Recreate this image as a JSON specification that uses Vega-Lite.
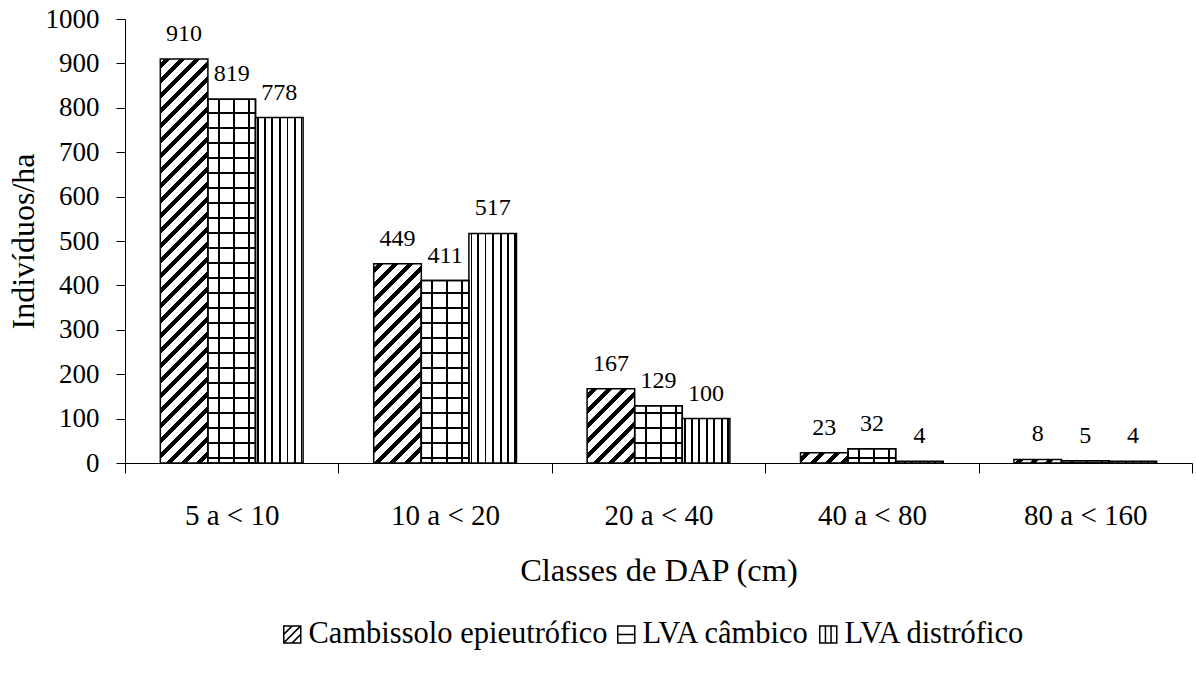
{
"$schema":"https://vega.github.io/schema/vega-lite/v6.json",
"width":1067,"height":444,
"autosize":{"type":"none"},
"padding":{"left":125,"top":19,"right":4,"bottom":212},
"background":"white",
"config":{"view":{"stroke":null},"font":"Liberation Serif",
 "axis":{"labelFont":"Liberation Serif","titleFont":"Liberation Serif","labelColor":"black","titleColor":"black","domainColor":"black","tickColor":"black","titleFontWeight":"normal","grid":false,"domainWidth":1,"tickWidth":1},
 "legend":{"labelFont":"Liberation Serif","labelColor":"black"}},
"data":{"values":[
{"Classe":"5 a < 10","Solo":"Cambissolo epieutrófico","Ind":910},
{"Classe":"5 a < 10","Solo":"LVA câmbico","Ind":819},
{"Classe":"5 a < 10","Solo":"LVA distrófico","Ind":778},
{"Classe":"10 a < 20","Solo":"Cambissolo epieutrófico","Ind":449},
{"Classe":"10 a < 20","Solo":"LVA câmbico","Ind":411},
{"Classe":"10 a < 20","Solo":"LVA distrófico","Ind":517},
{"Classe":"20 a < 40","Solo":"Cambissolo epieutrófico","Ind":167},
{"Classe":"20 a < 40","Solo":"LVA câmbico","Ind":129},
{"Classe":"20 a < 40","Solo":"LVA distrófico","Ind":100},
{"Classe":"40 a < 80","Solo":"Cambissolo epieutrófico","Ind":23},
{"Classe":"40 a < 80","Solo":"LVA câmbico","Ind":32},
{"Classe":"40 a < 80","Solo":"LVA distrófico","Ind":4},
{"Classe":"80 a < 160","Solo":"Cambissolo epieutrófico","Ind":8},
{"Classe":"80 a < 160","Solo":"LVA câmbico","Ind":5},
{"Classe":"80 a < 160","Solo":"LVA distrófico","Ind":4}
]},
"encoding":{
 "x":{"field":"Classe","type":"nominal","sort":["5 a < 10","10 a < 20","20 a < 40","40 a < 80","80 a < 160"],
  "scale":{"paddingInner":0,"paddingOuter":0},
  "axis":{"title":"Classes de DAP (cm)","labelAngle":0,"tickBand":"extent","tickSize":10,"labelFontSize":29,"labelPadding":28,"titleFontSize":32.5,"titlePadding":24}},
 "xOffset":{"field":"Solo","type":"nominal","sort":["Cambissolo epieutrófico","LVA câmbico","LVA distrófico"],"scale":{"paddingInner":0,"paddingOuter":0.742}},
 "y":{"field":"Ind","type":"quantitative","scale":{"domain":[0,1000],"nice":false},
  "axis":{"title":"Indivíduos/ha","format":"d","values":[0,100,200,300,400,500,600,700,800,900,1000],"tickSize":9,"labelPadding":17,"labelFontSize":27,"titleFontSize":32,"titlePadding":5,"labelOverlap":false,"labelFlush":false}}
},
"layer":[
{"mark":{"type":"bar","stroke":"black","strokeWidth":1.5},
 "encoding":{"fill":{"condition":[
  {"test":"datum.Solo === 'LVA câmbico'","value":{"gradient":"linear","x1":0,"y1":0,"x2":1,"y2":0,"stops":[
{"offset":0.210,"color":"#fff"},{"offset":0.210,"color":"#000"},{"offset":0.252,"color":"#000"},{"offset":0.252,"color":"#fff"},
{"offset":0.525,"color":"#fff"},{"offset":0.525,"color":"#000"},{"offset":0.567,"color":"#000"},{"offset":0.567,"color":"#fff"},
{"offset":0.840,"color":"#fff"},{"offset":0.840,"color":"#000"},{"offset":0.882,"color":"#000"},{"offset":0.882,"color":"#fff"}]}},
  {"test":"datum.Solo === 'LVA distrófico'","value":{"gradient":"linear","x1":0,"y1":0,"x2":1,"y2":0,"stops":[
{"offset":0.035,"color":"#fff"},{"offset":0.035,"color":"#000"},{"offset":0.075,"color":"#000"},{"offset":0.075,"color":"#fff"},
{"offset":0.175,"color":"#fff"},{"offset":0.175,"color":"#000"},{"offset":0.215,"color":"#000"},{"offset":0.215,"color":"#fff"},
{"offset":0.329,"color":"#fff"},{"offset":0.329,"color":"#000"},{"offset":0.369,"color":"#000"},{"offset":0.369,"color":"#fff"},
{"offset":0.490,"color":"#fff"},{"offset":0.490,"color":"#000"},{"offset":0.530,"color":"#000"},{"offset":0.530,"color":"#fff"},
{"offset":0.652,"color":"#fff"},{"offset":0.652,"color":"#000"},{"offset":0.692,"color":"#000"},{"offset":0.692,"color":"#fff"},
{"offset":0.806,"color":"#fff"},{"offset":0.806,"color":"#000"},{"offset":0.846,"color":"#000"},{"offset":0.846,"color":"#fff"},
{"offset":0.946,"color":"#fff"},{"offset":0.946,"color":"#000"},{"offset":0.986,"color":"#000"},{"offset":0.986,"color":"#fff"}]}},
  {"test":"datum.Classe === '5 a < 10'","value":{"gradient":"linear","x1":0,"y1":0,"x2":0.12986,"y2":1.1025,"stops":[
{"offset":0.0100,"color":"#fff"},{"offset":0.0100,"color":"#000"},{"offset":0.0232,"color":"#000"},{"offset":0.0232,"color":"#fff"},
{"offset":0.0432,"color":"#fff"},{"offset":0.0432,"color":"#000"},{"offset":0.0565,"color":"#000"},{"offset":0.0565,"color":"#fff"},
{"offset":0.0764,"color":"#fff"},{"offset":0.0764,"color":"#000"},{"offset":0.0897,"color":"#000"},{"offset":0.0897,"color":"#fff"},
{"offset":0.1096,"color":"#fff"},{"offset":0.1096,"color":"#000"},{"offset":0.1229,"color":"#000"},{"offset":0.1229,"color":"#fff"},
{"offset":0.1428,"color":"#fff"},{"offset":0.1428,"color":"#000"},{"offset":0.1561,"color":"#000"},{"offset":0.1561,"color":"#fff"},
{"offset":0.1760,"color":"#fff"},{"offset":0.1760,"color":"#000"},{"offset":0.1893,"color":"#000"},{"offset":0.1893,"color":"#fff"},
{"offset":0.2093,"color":"#fff"},{"offset":0.2093,"color":"#000"},{"offset":0.2225,"color":"#000"},{"offset":0.2225,"color":"#fff"},
{"offset":0.2425,"color":"#fff"},{"offset":0.2425,"color":"#000"},{"offset":0.2557,"color":"#000"},{"offset":0.2557,"color":"#fff"},
{"offset":0.2757,"color":"#fff"},{"offset":0.2757,"color":"#000"},{"offset":0.2890,"color":"#000"},{"offset":0.2890,"color":"#fff"},
{"offset":0.3089,"color":"#fff"},{"offset":0.3089,"color":"#000"},{"offset":0.3222,"color":"#000"},{"offset":0.3222,"color":"#fff"},
{"offset":0.3421,"color":"#fff"},{"offset":0.3421,"color":"#000"},{"offset":0.3554,"color":"#000"},{"offset":0.3554,"color":"#fff"},
{"offset":0.3753,"color":"#fff"},{"offset":0.3753,"color":"#000"},{"offset":0.3886,"color":"#000"},{"offset":0.3886,"color":"#fff"},
{"offset":0.4085,"color":"#fff"},{"offset":0.4085,"color":"#000"},{"offset":0.4218,"color":"#000"},{"offset":0.4218,"color":"#fff"},
{"offset":0.4417,"color":"#fff"},{"offset":0.4417,"color":"#000"},{"offset":0.4550,"color":"#000"},{"offset":0.4550,"color":"#fff"},
{"offset":0.4749,"color":"#fff"},{"offset":0.4749,"color":"#000"},{"offset":0.4882,"color":"#000"},{"offset":0.4882,"color":"#fff"},
{"offset":0.5081,"color":"#fff"},{"offset":0.5081,"color":"#000"},{"offset":0.5214,"color":"#000"},{"offset":0.5214,"color":"#fff"},
{"offset":0.5414,"color":"#fff"},{"offset":0.5414,"color":"#000"},{"offset":0.5546,"color":"#000"},{"offset":0.5546,"color":"#fff"},
{"offset":0.5746,"color":"#fff"},{"offset":0.5746,"color":"#000"},{"offset":0.5879,"color":"#000"},{"offset":0.5879,"color":"#fff"},
{"offset":0.6078,"color":"#fff"},{"offset":0.6078,"color":"#000"},{"offset":0.6211,"color":"#000"},{"offset":0.6211,"color":"#fff"},
{"offset":0.6410,"color":"#fff"},{"offset":0.6410,"color":"#000"},{"offset":0.6543,"color":"#000"},{"offset":0.6543,"color":"#fff"},
{"offset":0.6742,"color":"#fff"},{"offset":0.6742,"color":"#000"},{"offset":0.6875,"color":"#000"},{"offset":0.6875,"color":"#fff"},
{"offset":0.7074,"color":"#fff"},{"offset":0.7074,"color":"#000"},{"offset":0.7207,"color":"#000"},{"offset":0.7207,"color":"#fff"},
{"offset":0.7406,"color":"#fff"},{"offset":0.7406,"color":"#000"},{"offset":0.7539,"color":"#000"},{"offset":0.7539,"color":"#fff"},
{"offset":0.7738,"color":"#fff"},{"offset":0.7738,"color":"#000"},{"offset":0.7871,"color":"#000"},{"offset":0.7871,"color":"#fff"},
{"offset":0.8070,"color":"#fff"},{"offset":0.8070,"color":"#000"},{"offset":0.8203,"color":"#000"},{"offset":0.8203,"color":"#fff"},
{"offset":0.8403,"color":"#fff"},{"offset":0.8403,"color":"#000"},{"offset":0.8535,"color":"#000"},{"offset":0.8535,"color":"#fff"},
{"offset":0.8735,"color":"#fff"},{"offset":0.8735,"color":"#000"},{"offset":0.8867,"color":"#000"},{"offset":0.8867,"color":"#fff"},
{"offset":0.9067,"color":"#fff"},{"offset":0.9067,"color":"#000"},{"offset":0.9200,"color":"#000"},{"offset":0.9200,"color":"#fff"},
{"offset":0.9399,"color":"#fff"},{"offset":0.9399,"color":"#000"},{"offset":0.9532,"color":"#000"},{"offset":0.9532,"color":"#fff"},
{"offset":0.9731,"color":"#fff"},{"offset":0.9731,"color":"#000"},{"offset":0.9864,"color":"#000"},{"offset":0.9864,"color":"#fff"}]}},
  {"test":"datum.Classe === '10 a < 20'","value":{"gradient":"linear","x1":0,"y1":0,"x2":0.27976,"y2":1.17194,"stops":[
{"offset":0.0182,"color":"#fff"},{"offset":0.0182,"color":"#000"},{"offset":0.0425,"color":"#000"},{"offset":0.0425,"color":"#fff"},
{"offset":0.0790,"color":"#fff"},{"offset":0.0790,"color":"#000"},{"offset":0.1033,"color":"#000"},{"offset":0.1033,"color":"#fff"},
{"offset":0.1397,"color":"#fff"},{"offset":0.1397,"color":"#000"},{"offset":0.1640,"color":"#000"},{"offset":0.1640,"color":"#fff"},
{"offset":0.2005,"color":"#fff"},{"offset":0.2005,"color":"#000"},{"offset":0.2247,"color":"#000"},{"offset":0.2247,"color":"#fff"},
{"offset":0.2612,"color":"#fff"},{"offset":0.2612,"color":"#000"},{"offset":0.2855,"color":"#000"},{"offset":0.2855,"color":"#fff"},
{"offset":0.3219,"color":"#fff"},{"offset":0.3219,"color":"#000"},{"offset":0.3462,"color":"#000"},{"offset":0.3462,"color":"#fff"},
{"offset":0.3827,"color":"#fff"},{"offset":0.3827,"color":"#000"},{"offset":0.4070,"color":"#000"},{"offset":0.4070,"color":"#fff"},
{"offset":0.4434,"color":"#fff"},{"offset":0.4434,"color":"#000"},{"offset":0.4677,"color":"#000"},{"offset":0.4677,"color":"#fff"},
{"offset":0.5042,"color":"#fff"},{"offset":0.5042,"color":"#000"},{"offset":0.5285,"color":"#000"},{"offset":0.5285,"color":"#fff"},
{"offset":0.5649,"color":"#fff"},{"offset":0.5649,"color":"#000"},{"offset":0.5892,"color":"#000"},{"offset":0.5892,"color":"#fff"},
{"offset":0.6256,"color":"#fff"},{"offset":0.6256,"color":"#000"},{"offset":0.6499,"color":"#000"},{"offset":0.6499,"color":"#fff"},
{"offset":0.6864,"color":"#fff"},{"offset":0.6864,"color":"#000"},{"offset":0.7107,"color":"#000"},{"offset":0.7107,"color":"#fff"},
{"offset":0.7471,"color":"#fff"},{"offset":0.7471,"color":"#000"},{"offset":0.7714,"color":"#000"},{"offset":0.7714,"color":"#fff"},
{"offset":0.8079,"color":"#fff"},{"offset":0.8079,"color":"#000"},{"offset":0.8322,"color":"#000"},{"offset":0.8322,"color":"#fff"},
{"offset":0.8686,"color":"#fff"},{"offset":0.8686,"color":"#000"},{"offset":0.8929,"color":"#000"},{"offset":0.8929,"color":"#fff"},
{"offset":0.9293,"color":"#fff"},{"offset":0.9293,"color":"#000"},{"offset":0.9536,"color":"#000"},{"offset":0.9536,"color":"#fff"},
{"offset":0.9901,"color":"#fff"},{"offset":0.9901,"color":"#000"},{"offset":1,"color":"#000"}]}},
  {"test":"datum.Classe === '20 a < 40'","value":{"gradient":"linear","x1":0,"y1":0,"x2":0.74636,"y2":1.16285,"stops":[
{"offset":0.0370,"color":"#fff"},{"offset":0.0370,"color":"#000"},{"offset":0.0863,"color":"#000"},{"offset":0.0863,"color":"#fff"},
{"offset":0.1602,"color":"#fff"},{"offset":0.1602,"color":"#000"},{"offset":0.2095,"color":"#000"},{"offset":0.2095,"color":"#fff"},
{"offset":0.2834,"color":"#fff"},{"offset":0.2834,"color":"#000"},{"offset":0.3327,"color":"#000"},{"offset":0.3327,"color":"#fff"},
{"offset":0.4066,"color":"#fff"},{"offset":0.4066,"color":"#000"},{"offset":0.4559,"color":"#000"},{"offset":0.4559,"color":"#fff"},
{"offset":0.5298,"color":"#fff"},{"offset":0.5298,"color":"#000"},{"offset":0.5791,"color":"#000"},{"offset":0.5791,"color":"#fff"},
{"offset":0.6530,"color":"#fff"},{"offset":0.6530,"color":"#000"},{"offset":0.7023,"color":"#000"},{"offset":0.7023,"color":"#fff"},
{"offset":0.7762,"color":"#fff"},{"offset":0.7762,"color":"#000"},{"offset":0.8255,"color":"#000"},{"offset":0.8255,"color":"#fff"},
{"offset":0.8995,"color":"#fff"},{"offset":0.8995,"color":"#000"},{"offset":0.9487,"color":"#000"},{"offset":0.9487,"color":"#fff"}]}},
  {"test":"datum.Classe === '40 a < 80'","value":{"gradient":"linear","x1":0,"y1":0,"x2":1.1611,"y2":0.24915,"stops":[
{"offset":0.0779,"color":"#fff"},{"offset":0.0779,"color":"#000"},{"offset":0.1817,"color":"#000"},{"offset":0.1817,"color":"#fff"},
{"offset":0.3374,"color":"#fff"},{"offset":0.3374,"color":"#000"},{"offset":0.4412,"color":"#000"},{"offset":0.4412,"color":"#fff"},
{"offset":0.5969,"color":"#fff"},{"offset":0.5969,"color":"#000"},{"offset":0.7007,"color":"#000"},{"offset":0.7007,"color":"#fff"},
{"offset":0.8564,"color":"#fff"},{"offset":0.8564,"color":"#000"},{"offset":0.9602,"color":"#000"},{"offset":0.9602,"color":"#fff"}]}}
 ],
 "value":{"gradient":"linear","x1":0,"y1":0,"x2":1.06868,"y2":0.07976,"stops":[
{"offset":0.0880,"color":"#fff"},{"offset":0.0880,"color":"#000"},{"offset":0.2053,"color":"#000"},{"offset":0.2053,"color":"#fff"},
{"offset":0.3813,"color":"#fff"},{"offset":0.3813,"color":"#000"},{"offset":0.4986,"color":"#000"},{"offset":0.4986,"color":"#fff"},
{"offset":0.6746,"color":"#fff"},{"offset":0.6746,"color":"#000"},{"offset":0.7919,"color":"#000"},{"offset":0.7919,"color":"#fff"},
{"offset":0.9679,"color":"#fff"},{"offset":0.9679,"color":"#000"},{"offset":1,"color":"#000"}]}}}},
{"transform":[{"filter":"datum.Solo === 'LVA câmbico'"}],
 "mark":{"type":"bar","stroke":"black","strokeWidth":1.5},
 "encoding":{"fill":{"condition":[
  {"test":"datum.Classe === '5 a < 10'","value":{"gradient":"linear","x1":0,"y1":1,"x2":0,"y2":0,"stops":[
{"offset":0.0102,"color":"rgba(0,0,0,0)"},{"offset":0.0102,"color":"#000"},{"offset":0.0157,"color":"#000"},{"offset":0.0157,"color":"rgba(0,0,0,0)"},
{"offset":0.0514,"color":"rgba(0,0,0,0)"},{"offset":0.0514,"color":"#000"},{"offset":0.0569,"color":"#000"},{"offset":0.0569,"color":"rgba(0,0,0,0)"},
{"offset":0.0927,"color":"rgba(0,0,0,0)"},{"offset":0.0927,"color":"#000"},{"offset":0.0982,"color":"#000"},{"offset":0.0982,"color":"rgba(0,0,0,0)"},
{"offset":0.1339,"color":"rgba(0,0,0,0)"},{"offset":0.1339,"color":"#000"},{"offset":0.1394,"color":"#000"},{"offset":0.1394,"color":"rgba(0,0,0,0)"},
{"offset":0.1752,"color":"rgba(0,0,0,0)"},{"offset":0.1752,"color":"#000"},{"offset":0.1807,"color":"#000"},{"offset":0.1807,"color":"rgba(0,0,0,0)"},
{"offset":0.2164,"color":"rgba(0,0,0,0)"},{"offset":0.2164,"color":"#000"},{"offset":0.2219,"color":"#000"},{"offset":0.2219,"color":"rgba(0,0,0,0)"},
{"offset":0.2577,"color":"rgba(0,0,0,0)"},{"offset":0.2577,"color":"#000"},{"offset":0.2632,"color":"#000"},{"offset":0.2632,"color":"rgba(0,0,0,0)"},
{"offset":0.2989,"color":"rgba(0,0,0,0)"},{"offset":0.2989,"color":"#000"},{"offset":0.3044,"color":"#000"},{"offset":0.3044,"color":"rgba(0,0,0,0)"},
{"offset":0.3402,"color":"rgba(0,0,0,0)"},{"offset":0.3402,"color":"#000"},{"offset":0.3457,"color":"#000"},{"offset":0.3457,"color":"rgba(0,0,0,0)"},
{"offset":0.3814,"color":"rgba(0,0,0,0)"},{"offset":0.3814,"color":"#000"},{"offset":0.3869,"color":"#000"},{"offset":0.3869,"color":"rgba(0,0,0,0)"},
{"offset":0.4227,"color":"rgba(0,0,0,0)"},{"offset":0.4227,"color":"#000"},{"offset":0.4282,"color":"#000"},{"offset":0.4282,"color":"rgba(0,0,0,0)"},
{"offset":0.4639,"color":"rgba(0,0,0,0)"},{"offset":0.4639,"color":"#000"},{"offset":0.4694,"color":"#000"},{"offset":0.4694,"color":"rgba(0,0,0,0)"},
{"offset":0.5052,"color":"rgba(0,0,0,0)"},{"offset":0.5052,"color":"#000"},{"offset":0.5107,"color":"#000"},{"offset":0.5107,"color":"rgba(0,0,0,0)"},
{"offset":0.5464,"color":"rgba(0,0,0,0)"},{"offset":0.5464,"color":"#000"},{"offset":0.5519,"color":"#000"},{"offset":0.5519,"color":"rgba(0,0,0,0)"},
{"offset":0.5877,"color":"rgba(0,0,0,0)"},{"offset":0.5877,"color":"#000"},{"offset":0.5932,"color":"#000"},{"offset":0.5932,"color":"rgba(0,0,0,0)"},
{"offset":0.6289,"color":"rgba(0,0,0,0)"},{"offset":0.6289,"color":"#000"},{"offset":0.6344,"color":"#000"},{"offset":0.6344,"color":"rgba(0,0,0,0)"},
{"offset":0.6702,"color":"rgba(0,0,0,0)"},{"offset":0.6702,"color":"#000"},{"offset":0.6757,"color":"#000"},{"offset":0.6757,"color":"rgba(0,0,0,0)"},
{"offset":0.7114,"color":"rgba(0,0,0,0)"},{"offset":0.7114,"color":"#000"},{"offset":0.7169,"color":"#000"},{"offset":0.7169,"color":"rgba(0,0,0,0)"},
{"offset":0.7527,"color":"rgba(0,0,0,0)"},{"offset":0.7527,"color":"#000"},{"offset":0.7582,"color":"#000"},{"offset":0.7582,"color":"rgba(0,0,0,0)"},
{"offset":0.7939,"color":"rgba(0,0,0,0)"},{"offset":0.7939,"color":"#000"},{"offset":0.7994,"color":"#000"},{"offset":0.7994,"color":"rgba(0,0,0,0)"},
{"offset":0.8352,"color":"rgba(0,0,0,0)"},{"offset":0.8352,"color":"#000"},{"offset":0.8407,"color":"#000"},{"offset":0.8407,"color":"rgba(0,0,0,0)"},
{"offset":0.8764,"color":"rgba(0,0,0,0)"},{"offset":0.8764,"color":"#000"},{"offset":0.8819,"color":"#000"},{"offset":0.8819,"color":"rgba(0,0,0,0)"},
{"offset":0.9177,"color":"rgba(0,0,0,0)"},{"offset":0.9177,"color":"#000"},{"offset":0.9232,"color":"#000"},{"offset":0.9232,"color":"rgba(0,0,0,0)"},
{"offset":0.9589,"color":"rgba(0,0,0,0)"},{"offset":0.9589,"color":"#000"},{"offset":0.9644,"color":"#000"},{"offset":0.9644,"color":"rgba(0,0,0,0)"}]}},
  {"test":"datum.Classe === '10 a < 20'","value":{"gradient":"linear","x1":0,"y1":1,"x2":0,"y2":0,"stops":[
{"offset":0.0203,"color":"rgba(0,0,0,0)"},{"offset":0.0203,"color":"#000"},{"offset":0.0312,"color":"#000"},{"offset":0.0312,"color":"rgba(0,0,0,0)"},
{"offset":0.1025,"color":"rgba(0,0,0,0)"},{"offset":0.1025,"color":"#000"},{"offset":0.1134,"color":"#000"},{"offset":0.1134,"color":"rgba(0,0,0,0)"},
{"offset":0.1847,"color":"rgba(0,0,0,0)"},{"offset":0.1847,"color":"#000"},{"offset":0.1956,"color":"#000"},{"offset":0.1956,"color":"rgba(0,0,0,0)"},
{"offset":0.2669,"color":"rgba(0,0,0,0)"},{"offset":0.2669,"color":"#000"},{"offset":0.2778,"color":"#000"},{"offset":0.2778,"color":"rgba(0,0,0,0)"},
{"offset":0.3491,"color":"rgba(0,0,0,0)"},{"offset":0.3491,"color":"#000"},{"offset":0.3600,"color":"#000"},{"offset":0.3600,"color":"rgba(0,0,0,0)"},
{"offset":0.4313,"color":"rgba(0,0,0,0)"},{"offset":0.4313,"color":"#000"},{"offset":0.4422,"color":"#000"},{"offset":0.4422,"color":"rgba(0,0,0,0)"},
{"offset":0.5135,"color":"rgba(0,0,0,0)"},{"offset":0.5135,"color":"#000"},{"offset":0.5244,"color":"#000"},{"offset":0.5244,"color":"rgba(0,0,0,0)"},
{"offset":0.5957,"color":"rgba(0,0,0,0)"},{"offset":0.5957,"color":"#000"},{"offset":0.6066,"color":"#000"},{"offset":0.6066,"color":"rgba(0,0,0,0)"},
{"offset":0.6779,"color":"rgba(0,0,0,0)"},{"offset":0.6779,"color":"#000"},{"offset":0.6888,"color":"#000"},{"offset":0.6888,"color":"rgba(0,0,0,0)"},
{"offset":0.7601,"color":"rgba(0,0,0,0)"},{"offset":0.7601,"color":"#000"},{"offset":0.7710,"color":"#000"},{"offset":0.7710,"color":"rgba(0,0,0,0)"},
{"offset":0.8423,"color":"rgba(0,0,0,0)"},{"offset":0.8423,"color":"#000"},{"offset":0.8532,"color":"#000"},{"offset":0.8532,"color":"rgba(0,0,0,0)"},
{"offset":0.9245,"color":"rgba(0,0,0,0)"},{"offset":0.9245,"color":"#000"},{"offset":0.9354,"color":"#000"},{"offset":0.9354,"color":"rgba(0,0,0,0)"}]}},
  {"test":"datum.Classe === '20 a < 40'","value":{"gradient":"linear","x1":0,"y1":1,"x2":0,"y2":0,"stops":[
{"offset":0.0646,"color":"rgba(0,0,0,0)"},{"offset":0.0646,"color":"#000"},{"offset":0.0995,"color":"#000"},{"offset":0.0995,"color":"rgba(0,0,0,0)"},
{"offset":0.3265,"color":"rgba(0,0,0,0)"},{"offset":0.3265,"color":"#000"},{"offset":0.3614,"color":"#000"},{"offset":0.3614,"color":"rgba(0,0,0,0)"},
{"offset":0.5884,"color":"rgba(0,0,0,0)"},{"offset":0.5884,"color":"#000"},{"offset":0.6233,"color":"#000"},{"offset":0.6233,"color":"rgba(0,0,0,0)"},
{"offset":0.8502,"color":"rgba(0,0,0,0)"},{"offset":0.8502,"color":"#000"},{"offset":0.8851,"color":"#000"},{"offset":0.8851,"color":"rgba(0,0,0,0)"}]}},
  {"test":"datum.Classe === '40 a < 80'","value":{"gradient":"linear","x1":0,"y1":1,"x2":0,"y2":0,"stops":[
{"offset":0.2604,"color":"rgba(0,0,0,0)"},{"offset":0.2604,"color":"#000"},{"offset":0.4011,"color":"#000"},{"offset":0.4011,"color":"rgba(0,0,0,0)"}]}}
 ],
 "value":"transparent"}}},
{"transform":[{"filter":"datum.Ind < 0"}],
 "mark":{"type":"point","filled":false,"color":"black","strokeWidth":1.5},
 "encoding":{"shape":{"field":"Solo","type":"nominal",
  "scale":{"domain":["Cambissolo epieutrófico","LVA câmbico","LVA distrófico"],
   "range":["M-1,-1H1V1H-1ZM-1,0L0,-1M-1,1L1,-1M0,1L1,0","M-1,-1H1V1H-1ZM-1,0H1","M-1,-1H1V1H-1ZM-0.33,-1V1M0.33,-1V1"]},
  "legend":{"orient":"none","legendX":152,"legendY":600,"direction":"horizontal","title":null,"labelFontSize":30.5,"labelLimit":500,"symbolSize":289,"symbolStrokeWidth":1.5,"symbolStrokeColor":"black","symbolOpacity":1,"labelOffset":1,"columnPadding":3}}}},
{"mark":{"type":"text","dy":-18,"baseline":"alphabetic","fontSize":24,"font":"Liberation Serif","color":"black"},
 "encoding":{"text":{"field":"Ind","type":"quantitative"}}}
]
}
